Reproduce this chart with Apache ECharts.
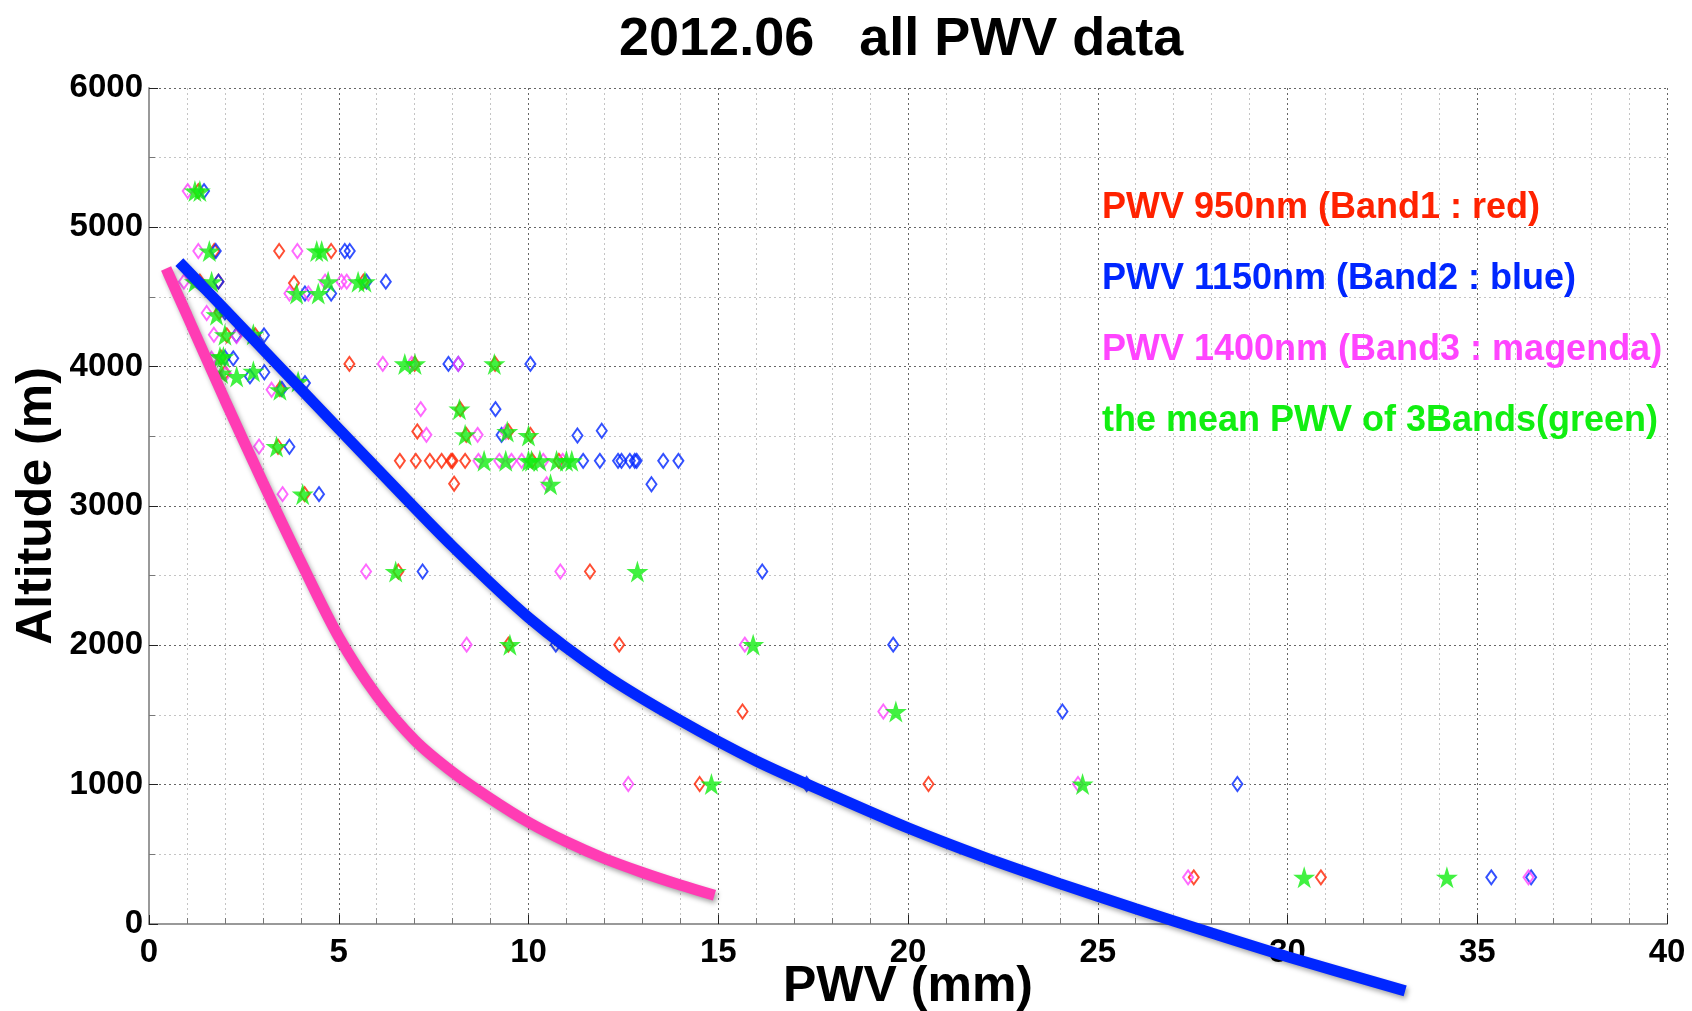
<!DOCTYPE html>
<html>
<head>
<meta charset="utf-8">
<title>2012.06 all PWV data</title>
<script src="https://cdn.jsdelivr.net/npm/echarts@6/dist/echarts.min.js"></script>
<style>
    html, body { margin: 0; padding: 0; background: #fff; }
    #main { width: 1692px; height: 1011px; }
</style>
</head>
<body>
<div id="main"></div>
<script>
// PWV (mm) , altitude (m)
var band1Red = [
    [1.30, 5260],
    [1.72, 4830], [3.43, 4830], [4.80, 4830],
    [1.34, 4610], [1.83, 4610], [3.82, 4600], [5.65, 4610],
    [1.85, 4390],
    [2.05, 4225], [2.80, 4225],
    [1.90, 4065], [2.00, 3955],
    [3.45, 3840],
    [5.28, 4020], [7.00, 4020], [9.12, 4020],
    [8.20, 3695],
    [7.07, 3535], [9.47, 3535], [8.36, 3510], [10.05, 3510],
    [3.40, 3425],
    [6.61, 3324], [7.03, 3324], [7.40, 3324], [7.71, 3324], [7.96, 3324], [8.00, 3324], [8.33, 3324], [10.10, 3324], [10.80, 3324],
    [8.04, 3160],
    [4.10, 3085],
    [6.57, 2530], [11.62, 2530],
    [9.47, 2005], [12.39, 2005],
    [15.64, 1525],
    [14.51, 1005], [20.54, 1005],
    [27.53, 335], [30.88, 335]
];
var band2Blue = [
    [1.45, 5260],
    [1.76, 4830], [5.16, 4830], [5.29, 4830],
    [1.83, 4610], [5.73, 4610], [6.24, 4610],
    [4.11, 4525], [4.80, 4525],
    [2.00, 4390],
    [2.30, 4225], [3.03, 4225],
    [2.00, 4065], [2.22, 4060],
    [2.66, 3930], [3.04, 3960],
    [3.50, 3840], [4.11, 3882],
    [7.89, 4020], [8.15, 4020], [10.05, 4020],
    [9.13, 3695],
    [11.93, 3540], [9.29, 3510], [11.29, 3506],
    [3.70, 3425],
    [11.44, 3324], [11.88, 3324], [12.36, 3324], [12.45, 3324], [12.67, 3324], [12.80, 3324], [12.85, 3324], [13.55, 3324], [13.95, 3324],
    [13.24, 3156],
    [4.48, 3085],
    [7.21, 2530], [16.16, 2530],
    [10.72, 2005], [19.61, 2005],
    [24.07, 1525],
    [17.33, 1005], [28.68, 1005],
    [35.37, 335], [36.42, 335]
];
var band3Magenta = [
    [1.02, 5260],
    [1.30, 4830], [3.91, 4830],
    [0.92, 4610], [4.64, 4610], [5.07, 4610], [5.21, 4610],
    [3.70, 4525], [4.20, 4525],
    [1.52, 4385],
    [1.71, 4229], [2.31, 4220],
    [1.65, 4057], [2.03, 3950],
    [3.23, 3834],
    [6.16, 4020], [6.92, 4020], [8.15, 4020],
    [7.16, 3695],
    [7.31, 3511], [8.66, 3511], [9.40, 3530],
    [2.90, 3427],
    [8.68, 3324], [9.23, 3324], [9.55, 3324], [9.82, 3324], [10.39, 3324], [10.90, 3324],
    [10.48, 3156],
    [3.52, 3085],
    [5.72, 2530], [10.84, 2530],
    [8.37, 2005], [15.70, 2005],
    [19.35, 1525],
    [12.63, 1005], [24.48, 1005],
    [27.38, 335], [36.35, 335]
];
var meanGreen = [
    [1.21, 5260], [1.34, 5260],
    [1.59, 4830], [4.42, 4830], [4.55, 4830],
    [1.21, 4610], [1.65, 4610], [4.72, 4610], [5.51, 4610], [5.69, 4610],
    [3.89, 4525], [4.46, 4525],
    [1.78, 4373],
    [2.00, 4229], [2.75, 4232],
    [1.87, 4070], [1.96, 4070],
    [1.91, 3954], [2.31, 3930], [2.75, 3967],
    [3.45, 3834], [3.93, 3894],
    [6.74, 4020], [7.01, 4020], [9.10, 4020],
    [8.18, 3695],
    [9.44, 3535], [8.33, 3511], [10.00, 3506],
    [3.36, 3427],
    [8.83, 3324], [9.40, 3324], [10.00, 3324], [10.08, 3324], [10.30, 3324], [10.74, 3324], [11.00, 3324], [11.14, 3324],
    [10.58, 3156],
    [4.05, 3085],
    [6.50, 2530], [12.87, 2530],
    [9.51, 2005], [15.92, 2005],
    [19.68, 1525],
    [14.82, 1005], [24.60, 1005],
    [30.44, 335], [34.20, 335]
];
// the two fitted curves
var fitPink = [
    [0.45, 4705], [1, 4370], [2, 3760], [3, 3170], [4, 2600], [5, 2060], [6, 1640], [7, 1320],
    [8, 1090], [9, 900], [10, 730], [11, 590], [12, 470], [13, 370], [14, 280], [14.9, 206]
];
var fitBlue = [
    [0.8, 4750], [2, 4410], [4, 3840], [6, 3270], [8, 2710], [10, 2200], [12, 1790], [14, 1460],
    [16, 1170], [18, 925], [20, 690], [22, 480], [24, 290], [26, 110], [28, -65], [30, -235], [33.1, -480]
];
var legendNames = [
    'PWV 950nm (Band1 : red)',
    'PWV 1150nm (Band2 : blue)',
    'PWV 1400nm (Band3 : magenda)',
    'the mean PWV of 3Bands(green)'
];
var legendColors = ['#ff2200', '#0026ff', '#ff44ff', '#11ee11'];

var FONT = '"Liberation Sans", Arial, Helvetica, sans-serif';
var starPath = 'path://M50,0 L61,35 L98,35 L68,57 L79,91 L50,70 L21,91 L32,57 L2,35 L39,35 Z';

function diamondSeries(name, data, color) {
    return {
        name: name,
        type: 'scatter',
        data: data,
        symbol: 'diamond',
        symbolSize: [10, 14],
        itemStyle: { color: 'rgba(0,0,0,0)', borderColor: color, borderWidth: 2 },
        z: 2
    };
}

function fitSeries(name, data, color) {
    return {
        name: name,
        type: 'line',
        data: data,
        smooth: 0.3,
        showSymbol: false,
        clip: false,
        lineStyle: {
            color: color,
            width: 11,
            shadowColor: 'rgba(0,0,0,0.35)',
            shadowBlur: 5,
            shadowOffsetX: 2,
            shadowOffsetY: 3
        },
        z: 4
    };
}

var myChart = echarts.init(document.getElementById('main'));

var option = {
    animation: false,
    backgroundColor: '#fff',
    title: {
        text: '2012.06   all PWV data',
        left: 614,
        top: 8,
        textStyle: { fontFamily: FONT, fontWeight: 'bold', fontSize: 54, color: '#000' }
    },
    legend: {
        data: legendNames.map(function (n, i) {
            return { name: n, textStyle: { color: legendColors[i] } };
        }),
        orient: 'vertical',
        left: 1092,
        top: 185,
        icon: 'none',
        itemWidth: 0,
        itemHeight: 36,
        itemGap: 35,
        selectedMode: false,
        textStyle: { fontFamily: FONT, fontWeight: 'bold', fontSize: 36 }
    },
    grid: { left: 149, right: 25, top: 88, bottom: 87, outerBoundsMode: 'none' },
    xAxis: {
        type: 'value',
        min: 0,
        max: 40,
        interval: 5,
        name: 'PWV (mm)',
        nameLocation: 'middle',
        nameGap: 38,
        nameMoveOverlap: false,
        nameTextStyle: { fontFamily: FONT, fontWeight: 'bold', fontSize: 50, color: '#000' },
        axisLine: { show: true, onZero: false, lineStyle: { color: '#999', width: 2 } },
        axisTick: { inside: true, length: 9, lineStyle: { color: '#222' } },
        minorTick: { show: true, splitNumber: 5, length: 6, lineStyle: { color: '#777' } },
        splitLine: { show: true, lineStyle: { color: '#666', type: [2, 3] } },
        minorSplitLine: { show: true, lineStyle: { color: '#c4c4c4', type: [2, 3] } },
        axisLabel: { fontFamily: FONT, fontWeight: 'bold', fontSize: 33, color: '#000', margin: 12 }
    },
    yAxis: {
        type: 'value',
        min: 0,
        max: 6000,
        interval: 1000,
        name: 'Altitude (m)',
        nameLocation: 'middle',
        nameRotate: 90,
        nameGap: 87,
        nameMoveOverlap: false,
        nameTextStyle: { fontFamily: FONT, fontWeight: 'bold', fontSize: 50, color: '#000' },
        axisLine: { show: true, lineStyle: { color: '#999', width: 2 } },
        axisTick: { inside: true, length: 9, lineStyle: { color: '#222' } },
        minorTick: { show: true, splitNumber: 2, length: 6, lineStyle: { color: '#777' } },
        splitLine: { show: true, lineStyle: { color: '#666', type: [2, 3] } },
        minorSplitLine: { show: true, lineStyle: { color: '#c4c4c4', type: [2, 3] } },
        axisLabel: {
            fontFamily: FONT, fontWeight: 'bold', fontSize: 33, color: '#000', margin: 6,
            formatter: function (v) { return String(v); }
        }
    },
    series: [
        diamondSeries(legendNames[0], band1Red, legendColors[0]),
        diamondSeries(legendNames[1], band2Blue, legendColors[1]),
        diamondSeries(legendNames[2], band3Magenta, legendColors[2]),
        {
            name: legendNames[3],
            type: 'scatter',
            data: meanGreen,
            symbol: starPath,
            symbolSize: 22,
            itemStyle: { color: '#11ee11' },
            z: 3
        },
        fitSeries('fit pink', fitPink, '#ff3cb4'),
        fitSeries('fit blue', fitBlue, '#0026ff')
    ]
};

myChart.setOption(option);
</script>
</body>
</html>
